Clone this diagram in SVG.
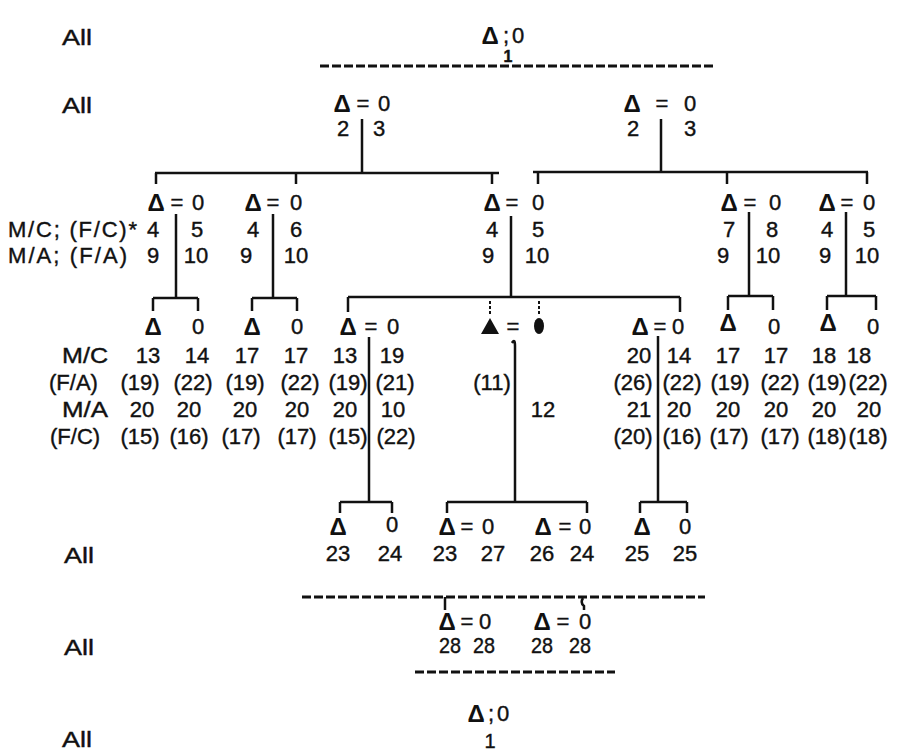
<svg xmlns="http://www.w3.org/2000/svg" width="899" height="752" viewBox="0 0 899 752">
<style>
text{font-family:"Liberation Sans","DejaVu Sans",sans-serif;font-size:22px;fill:#111;stroke:#111;stroke-width:0.4;text-anchor:middle}
.l{text-anchor:start}
.d{font-weight:bold;font-size:24px;stroke-width:0}
.b{font-weight:bold;font-size:16px}
.ln{stroke:#111;stroke-width:2.5;fill:none}
.ds{stroke:#111;stroke-width:3;fill:none;stroke-dasharray:9 3}
.dt{stroke:#111;stroke-width:2;fill:none;stroke-dasharray:3 2}
</style>
<rect width="899" height="752" fill="#fff"/>
<g id="row-labels">
<text class="l" x="62" y="45" textLength="30" lengthAdjust="spacingAndGlyphs">All</text>
<text class="l" x="62" y="113" textLength="30" lengthAdjust="spacingAndGlyphs">All</text>
<text class="l" x="8" y="237" textLength="129" lengthAdjust="spacing">M/C; (F/C)*</text>
<text class="l" x="8" y="263" textLength="119" lengthAdjust="spacing">M/A; (F/A)</text>
<text class="l" x="62" y="363" textLength="46" lengthAdjust="spacingAndGlyphs">M/C</text>
<text class="l" x="49" y="390">(F/A)</text>
<text class="l" x="62" y="417" textLength="46" lengthAdjust="spacingAndGlyphs">M/A</text>
<text class="l" x="50" y="444">(F/C)</text>
<text class="l" x="64" y="563" textLength="30" lengthAdjust="spacingAndGlyphs">All</text>
<text class="l" x="64" y="655" textLength="30" lengthAdjust="spacingAndGlyphs">All</text>
<text class="l" x="62" y="747" textLength="30" lengthAdjust="spacingAndGlyphs">All</text>
</g>
<g id="connectors">
<line class="ds" x1="320" y1="66" x2="713" y2="66"/>
<path class="ln" d="M362,119V173M661,119V172"/>
<path class="ln" d="M155,173H499M156,173V184M296,173V184M492,173V184"/>
<path class="ln" d="M533,172H868M538,172V184M727,172V184M867,172V184"/>
<path class="ln" d="M176,214V298M153,298H198M153,298V311M198,298V311"/>
<path class="ln" d="M273,214V298M252,298H297M252,298V311M297,298V311"/>
<path class="ln" d="M511,216V297M348,297H680M348,297V312M680,297V312"/>
<path class="dt" d="M490,301V315M539,301V315"/>
<path class="ln" d="M749,212V296M728,296H773M728,296V310M773,296V310"/>
<path class="ln" d="M846,212V296M827,296H876M827,296V310M876,296V310"/>
<path class="ln" d="M369,337V502M340,502H392M340,502V513M392,502V513"/>
<path class="ln" d="M512,343Q515,338 515,346V502M447,502H587M447,502V513M587,502V513"/>
<path class="ln" d="M658,336V502M640,502H687M640,502V513M687,502V513"/>
<line class="ds" x1="302" y1="597" x2="705" y2="597"/>
<path class="ln" d="M445,597V610M583,598Q580,603 584,606V610"/>
<line class="ds" x1="415" y1="672" x2="615" y2="672"/>
</g>
<g id="n0"><text class="d" x="490" y="44">Δ</text><text x="506" y="43">;</text><text x="518" y="43">0</text><text class="b" x="508" y="62">1</text></g>
<g id="n1a"><text class="d" x="342" y="112">Δ</text><text x="363" y="111">=</text><text x="384" y="111">0</text><text x="343" y="136">2</text><text x="379" y="136">3</text></g>
<g id="n1b"><text class="d" x="632" y="112">Δ</text><text x="662" y="111">=</text><text x="690" y="111">0</text><text x="633" y="136">2</text><text x="690" y="136">3</text></g>
<g id="n2a"><text class="d" x="156" y="211">Δ</text><text x="177" y="210">=</text><text x="198" y="210">0</text><text x="153" y="237">4</text><text x="197" y="237">5</text><text x="153" y="263">9</text><text x="196" y="263">10</text></g>
<g id="n2b"><text class="d" x="253" y="211">Δ</text><text x="273" y="210">=</text><text x="296" y="210">0</text><text x="253" y="237">4</text><text x="296" y="237">6</text><text x="246" y="263">9</text><text x="296" y="263">10</text></g>
<g id="n2c"><text class="d" x="492" y="211">Δ</text><text x="512" y="210">=</text><text x="538" y="210">0</text><text x="492" y="237">4</text><text x="538" y="237">5</text><text x="488" y="263">9</text><text x="537" y="263">10</text></g>
<g id="n2d"><text class="d" x="729" y="211">Δ</text><text x="750" y="210">=</text><text x="775" y="210">0</text><text x="729" y="237">7</text><text x="772" y="237">8</text><text x="723" y="263">9</text><text x="768" y="263">10</text></g>
<g id="n2e"><text class="d" x="827" y="211">Δ</text><text x="847" y="210">=</text><text x="869" y="210">0</text><text x="827" y="237">4</text><text x="869" y="237">5</text><text x="825" y="263">9</text><text x="867" y="263">10</text></g>
<g id="n3a"><text class="d" x="153" y="335">Δ</text><text x="198" y="334">0</text>
<text x="148" y="363">13</text><text x="140" y="390">(19)</text><text x="142" y="417">20</text><text x="140" y="444">(15)</text>
<text x="197" y="363">14</text><text x="193" y="390">(22)</text><text x="189" y="417">20</text><text x="189" y="444">(16)</text></g>
<g id="n3b"><text class="d" x="252" y="335">Δ</text><text x="297" y="334">0</text>
<text x="247" y="363">17</text><text x="245" y="390">(19)</text><text x="245" y="417">20</text><text x="241" y="444">(17)</text>
<text x="296" y="363">17</text><text x="300" y="390">(22)</text><text x="297" y="417">20</text><text x="297" y="444">(17)</text></g>
<g id="n3c"><text class="d" x="348" y="335">Δ</text><text x="371" y="334">=</text><text x="393" y="334">0</text>
<text x="345" y="363">13</text><text x="348" y="390">(19)</text><text x="345" y="417">20</text><text x="348" y="444">(15)</text>
<text x="392" y="363">19</text><text x="395" y="390">(21)</text><text x="393" y="417">10</text><text x="396" y="444">(22)</text></g>
<g id="n3d"><polygon points="481,334 490,318 499,334" fill="#111"/><text x="513" y="334">=</text><ellipse cx="539" cy="326" rx="5" ry="8" fill="#111"/>
<text x="492" y="390">(11)</text><text x="543" y="417">12</text></g>
<g id="n3e"><text class="d" x="640" y="335">Δ</text><text x="660" y="334">=</text><text x="678" y="334">0</text>
<text x="639" y="363">20</text><text x="633" y="390">(26)</text><text x="639" y="417">21</text><text x="633" y="444">(20)</text>
<text x="679" y="363">14</text><text x="682" y="390">(22)</text><text x="679" y="417">20</text><text x="682" y="444">(16)</text></g>
<g id="n3f"><text class="d" x="728" y="331">Δ</text><text x="774" y="334">0</text>
<text x="728" y="363">17</text><text x="730" y="390">(19)</text><text x="728" y="417">20</text><text x="729" y="444">(17)</text>
<text x="776" y="363">17</text><text x="780" y="390">(22)</text><text x="776" y="417">20</text><text x="780" y="444">(17)</text></g>
<g id="n3g"><text class="d" x="828" y="331">Δ</text><text x="873" y="334">0</text>
<text x="824" y="363">18</text><text x="827" y="390">(19)</text><text x="824" y="417">20</text><text x="827" y="444">(18)</text>
<text x="859" y="363">18</text><text x="868" y="390">(22)</text><text x="869" y="417">20</text><text x="868" y="444">(18)</text></g>
<g id="n4a"><text class="d" x="338" y="535">Δ</text><text x="392" y="532">0</text><text x="338" y="561">23</text><text x="390" y="561">24</text></g>
<g id="n4b"><text class="d" x="447" y="535">Δ</text><text x="467" y="534">=</text><text x="488" y="534">0</text><text x="445" y="561">23</text><text x="493" y="561">27</text></g>
<g id="n4c"><text class="d" x="543" y="535">Δ</text><text x="565" y="534">=</text><text x="585" y="534">0</text><text x="542" y="561">26</text><text x="582" y="561">24</text></g>
<g id="n4d"><text class="d" x="642" y="535">Δ</text><text x="685" y="534">0</text><text x="637" y="561">25</text><text x="685" y="561">25</text></g>
<g id="n5a"><text class="d" x="447" y="630">Δ</text><text x="467" y="629">=</text><text x="485" y="629">0</text><text x="450" y="653" textLength="22" lengthAdjust="spacingAndGlyphs">28</text><text x="484" y="653" textLength="22" lengthAdjust="spacingAndGlyphs">28</text></g>
<g id="n5b"><text class="d" x="542" y="630">Δ</text><text x="563" y="629">=</text><text x="585" y="629">0</text><text x="542" y="653" textLength="22" lengthAdjust="spacingAndGlyphs">28</text><text x="580" y="653" textLength="22" lengthAdjust="spacingAndGlyphs">28</text></g>
<g id="n6"><text class="d" x="476" y="722">Δ</text><text x="491" y="721">;</text><text x="503" y="721">0</text><text x="490" y="748" style="font-size:20px">1</text></g>
</svg>
